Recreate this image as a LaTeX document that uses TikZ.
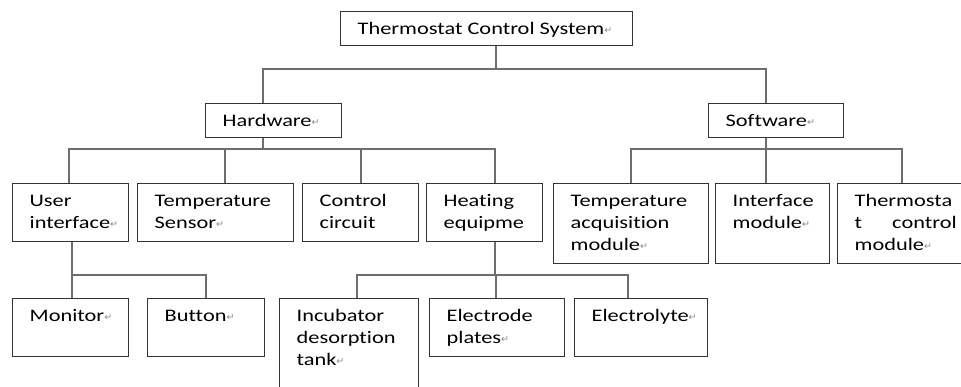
\documentclass[tikz,border=0pt]{standalone}
\usepackage{fontspec}
\setmainfont{Carlito}[FakeStretch=1.27,Ligatures={NoCommon,NoRare}]
\newfontfamily\symfont{DejaVu Sans}
\usepackage{xcolor}
\definecolor{boxline}{HTML}{333333}
\definecolor{connline}{HTML}{6E6E6E}
\definecolor{retgray}{HTML}{8A8A8A}
\newcommand\ret{{\symfont\fontsize{9.5}{9.5}\selectfont\color{retgray}\raisebox{0.5pt}{↵}}}
\newcommand\bt[3]{\begin{minipage}[t][#2pt][t]{#1pt}\fontsize{17.6}{22}\selectfont\raggedright\setlength{\leftskip}{17pt}\vspace*{7.3pt}\strut #3\end{minipage}}
\tikzset{
  box/.style={draw=boxline, line width=1.3pt, inner sep=0pt, anchor=north west, fill=white},
  conn/.style={draw=connline, line width=1.6pt}
}
\begin{document}
\begin{tikzpicture}[x=1pt,y=-1pt]
\useasboundingbox (0,0) rectangle (961,386);
\fill[white] (0,0) rectangle (961,386);
\clip (0,0) rectangle (961,386);
\coordinate (bus1) at (0,69);
\coordinate (bus2) at (0,149);
\coordinate (bus3) at (0,275);
% level 0
\node[box] (top) at (340,11) {\bt{292}{34}{Thermostat Control System\ret}};
% level 1
\node[box] (hw) at (205,103) {\bt{136}{34}{Hardware\ret}};
\node[box] (sw) at (708,103) {\bt{135}{34}{Software\ret}};
% level 2 hardware
\node[box] (ui) at (12,183) {\bt{116}{58}{User\\interface\ret}};
\node[box] (ts) at (137,183) {\bt{156}{58}{Temperature\\Sensor\ret}};
\node[box] (cc) at (302,183) {\bt{116}{58}{Control\\circuit}};
\node[box] (he) at (426,183) {\bt{116}{58}{Heating\\equipme}};
% level 2 software
\node[box] (ta) at (553,183) {\bt{155}{80}{Temperature\\acquisition\\module\ret}};
\node[box] (im) at (715,183) {\bt{114}{80}{Interface\\module\ret}};
\node[box] (tc) at (837,183) {\bt{140}{80}{Thermosta\\\leavevmode\hbox to 102pt{t\hfill control}\\module\ret}};
% level 3
\node[box] (mo) at (12,298) {\bt{116}{58}{Monitor\ret}};
\node[box] (bu) at (147,298) {\bt{117}{58}{Button\ret}};
\node[box] (inc) at (279,298) {\bt{139}{110}{Incubator\\desorption\\tank\ret}};
\node[box] (ep) at (429,298) {\bt{135}{58}{Electrode\\plates\ret}};
\node[box] (ey) at (574,298) {\bt{133}{58}{Electrolyte\ret}};
% connectors: top
\draw[conn] ([xshift=156pt]top.south west) coordinate (p0) -- (p0 |- bus1) -| ([xshift=58pt]hw.north west);
\draw[conn] (p0) -- (p0 |- bus1) -| ([xshift=58pt]sw.north west);
% hardware
\draw[conn] ([xshift=58pt]hw.south west) coordinate (p1) -- (p1 |- bus2) -| ([xshift=57pt]ui.north west);
\draw[conn] (p1) -- (p1 |- bus2) -| ([xshift=88pt]ts.north west);
\draw[conn] (p1) -- (p1 |- bus2) -| ([xshift=59pt]cc.north west);
\draw[conn] (p1) -- (p1 |- bus2) -| ([xshift=69pt]he.north west);
% software
\draw[conn] ([xshift=58pt]sw.south west) coordinate (p2) -- (p2 |- bus2) -| ([xshift=78pt]ta.north west);
\draw[conn] (p2) -- (p2 |- bus2) -| ([xshift=51pt]im.north west);
\draw[conn] (p2) -- (p2 |- bus2) -| ([xshift=65pt]tc.north west);
% user interface
\draw[conn] ([xshift=60pt]ui.south west) coordinate (p3) -- (p3 |- bus3) -| ([xshift=60pt]mo.north west);
\draw[conn] (p3) -- (p3 |- bus3) -| ([xshift=59pt]bu.north west);
% heating
\draw[conn] ([xshift=69pt]he.south west) coordinate (p4) -- (p4 |- bus3) -| ([xshift=78pt]inc.north west);
\draw[conn] (p4) -- (p4 |- bus3) -| ([xshift=67pt]ep.north west);
\draw[conn] (p4) -- (p4 |- bus3) -| ([xshift=54pt]ey.north west);
\end{tikzpicture}
\end{document}
